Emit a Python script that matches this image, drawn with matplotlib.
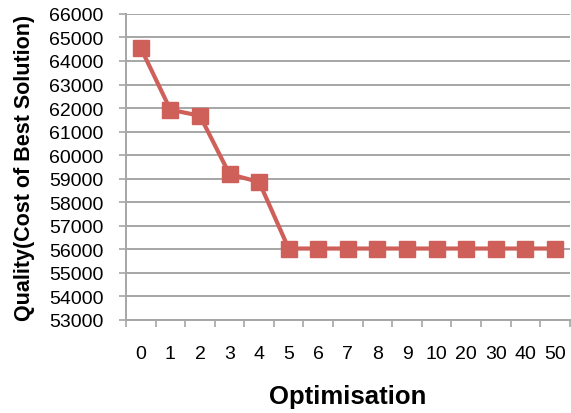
import matplotlib.pyplot as plt
from matplotlib.ticker import FixedLocator, MultipleLocator

plt.rcParams['font.family'] = ['Liberation Sans', 'DejaVu Sans']

# optimisation step labels and best-solution cost at each step
steps = ['0', '1', '2', '3', '4', '5', '6', '7', '8', '9', '10', '20', '30', '40', '50']
cost = [64550, 61930, 61670, 59190, 58860, 56030, 56030, 56030, 56030, 56030,
        56030, 56030, 56030, 56030, 56030]

lineColour = '#CF5F59'
gridColour = '#A6A6A6'

fig = plt.figure(figsize=(5.71, 4.14), dpi=100)
ax = fig.add_axes([0.2207, 0.225, 0.777, 0.739])

xPos = list(range(len(steps)))
ax.plot(xPos, cost, color=lineColour, linewidth=3, marker='s',
        markersize=11.5, markerfacecolor=lineColour, markeredgecolor=lineColour,
        zorder=3)

ax.set_xlim(-0.5, len(steps) - 0.5)
ax.set_ylim(53000, 66000)
ax.yaxis.set_major_locator(MultipleLocator(1000))

# category labels in the middle, tick marks on the boundaries
ax.set_xticks(xPos)
ax.set_xticklabels(steps)
ax.xaxis.set_minor_locator(FixedLocator([i - 0.5 for i in range(len(steps) + 1)]))
ax.tick_params(axis='x', which='major', length=0, pad=18, labelsize=14)
ax.tick_params(axis='x', which='minor', length=5, width=1.2, color=gridColour,
               direction='out')
ax.tick_params(axis='y', length=5, width=1.2, color=gridColour, pad=11,
               labelsize=14)

ax.grid(axis='y', color=gridColour, linewidth=1.4)
ax.set_axisbelow(True)
for side in ['top', 'right']:
    ax.spines[side].set_visible(False)
for side in ['left', 'bottom']:
    ax.spines[side].set_color(gridColour)
    ax.spines[side].set_linewidth(1.4)

ax.set_xlabel('Optimisation', fontsize=18.5, fontweight='bold', labelpad=16)
ax.set_ylabel('Quality(Cost of Best Solution)', fontsize=15.5, fontweight='bold',
              labelpad=10)

fig.savefig('out.png', dpi=100)
